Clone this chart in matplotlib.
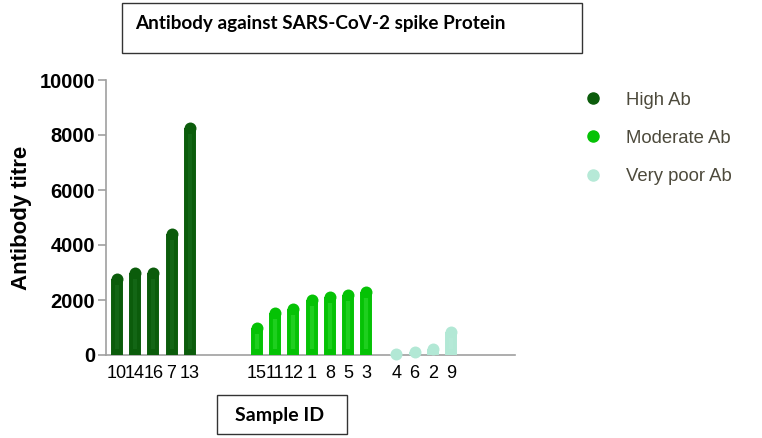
import numpy as np
import matplotlib
matplotlib.use("Agg")
import matplotlib.pyplot as plt
from matplotlib.lines import Line2D
from matplotlib.patches import Rectangle

# data
ids_high = ['10', '14', '16', '7', '13']
vals_high = [2750, 2990, 2980, 4390, 8270]
ids_mod = ['15', '11', '12', '1', '8', '5', '3']
vals_mod = [990, 1540, 1660, 2000, 2100, 2190, 2290]
ids_poor = ['4', '6', '2', '9']
vals_poor = [20, 120, 230, 840]
group_names = ['High Ab', 'Moderate Ab', 'Very poor Ab']

# styling / layout
group_start = [0, 7.7, 15.35]
col_main = ['#0b5c0b', '#05c205', '#b2e8d5']
col_hi = ['#1a6e1d', '#2fd82f', '#b8ebd9']
col_leg = ['#0b5c0b', '#05c205', '#b6e9d7']
W = 762; H = 438
bar_lw = 8.6  # points (~12 px)

fig = plt.figure(figsize=(W / 100, H / 100), dpi=100)
ax = fig.add_axes([106 / W, (H - 355) / H, (515 - 106) / W, 275 / H])
ax.set_xlim(-0.6, 21.87)
ax.set_ylim(0, 10000)
r = 6 * 10000 / 275  # cap radius in data units

groups = [(ids_high, vals_high), (ids_mod, vals_mod), (ids_poor, vals_poor)]
xt, xl, minor = [], [], []
for g, (ids, vals) in enumerate(groups):
    xs = group_start[g] + np.arange(len(ids))
    for x, v in zip(xs, vals):
        ax.plot([x, x], [0, v], color=col_main[g], lw=bar_lw,
                solid_capstyle='butt', zorder=3)
        ax.plot([x], [v], marker='o', ms=bar_lw, mew=0, color=col_main[g],
                clip_on=False, zorder=3)
        if v > 3 * r:
            ax.plot([x, x], [r, v - r], color=col_hi[g], lw=3.0,
                    solid_capstyle='butt', zorder=4, alpha=0.6)
    xt += list(xs); xl += ids
    minor.append(xs[3])

for s in ['top', 'right']:
    ax.spines[s].set_visible(False)
for s in ['left', 'bottom']:
    ax.spines[s].set_color('#a0a0a0')
    ax.spines[s].set_linewidth(1.2)

ax.set_yticks(np.arange(0, 10001, 2000))
ax.set_yticklabels([str(v) for v in range(0, 10001, 2000)],
                   fontsize=14.5, fontweight='bold', family='Liberation Sans')
ax.tick_params(axis='y', length=6, color='#a0a0a0', width=1.2, pad=2)
ax.set_xticks(xt)
ax.set_xticklabels(xl, fontsize=13, family='Liberation Sans')
ax.tick_params(axis='x', which='major', length=0, pad=7)
ax.set_xticks(minor, minor=True)
ax.tick_params(axis='x', which='minor', length=6, color='#a0a0a0', width=1.2)
ax.set_ylabel('Antibody titre', fontsize=16, fontweight='bold',
              family='Liberation Sans', labelpad=5)

handles = [Line2D([], [], ls='none', marker='o', markersize=8,
                  color=c) for c in col_leg]
leg = fig.legend(handles, group_names, loc='upper left',
                 bbox_to_anchor=(563 / W, 1 - 75 / H), frameon=False,
                 prop={'family': 'Liberation Sans', 'size': 13.3},
                 labelspacing=1.15, handletextpad=1.0, handlelength=1.5)
for t in leg.get_texts():
    t.set_color('#4d4a3c')

# title box and x-label box
fig.patches.append(Rectangle((122 / W, 1 - 53 / H), 460 / W, 50 / H,
                             transform=fig.transFigure, fill=False,
                             ec='#333333', lw=1))
fig.text(135 / W, 1 - 24 / H, 'Antibody against SARS-CoV-2 spike Protein',
         fontsize=13.6, fontweight='bold', family='Lato', va='center')
fig.patches.append(Rectangle((217 / W, 1 - 434 / H), 130 / W, 39 / H,
                             transform=fig.transFigure, fill=False,
                             ec='#333333', lw=1))
fig.text(280 / W, 1 - 415 / H, 'Sample ID', fontsize=14, fontweight='bold',
         family='Lato', ha='center', va='center')

fig.savefig('out.png', dpi=100, facecolor='white')
